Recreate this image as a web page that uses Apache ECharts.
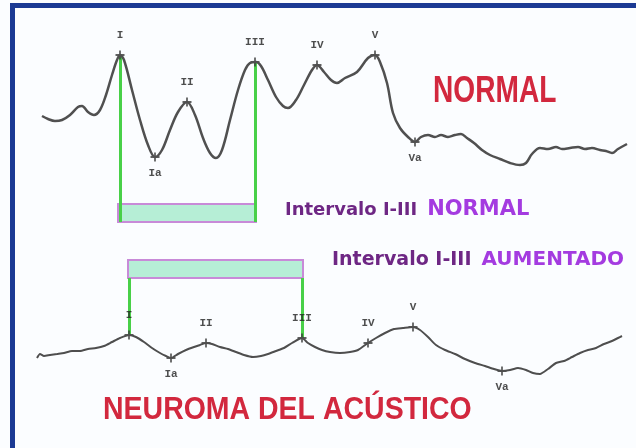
<!DOCTYPE html>
<html>
<head>
<meta charset="utf-8">
<script src="https://cdn.jsdelivr.net/npm/echarts@6/dist/echarts.min.js"></script>
<style>
  html, body { margin: 0; padding: 0; background: #ffffff; }
  #main { width: 636px; height: 448px; }
</style>
</head>
<body>
<div id="main"></div>
<script>
// ABR traces: [latency, amplitude] in plot units
var normalTrace = [
  [42,116],[48,119],[55,121],[62,120],[70,115],[78,107],[82,106],[88,112],[94,115],[100,110],
  [106,95],[112,75],[117,60],[120,55],[124,60],[132,90],[140,120],[148,145],[155,157],[162,150],
  [170,130],[178,112],[187,102],[195,115],[203,138],[210,153],[216,158],[222,150],[230,120],[238,90],
  [245,70],[250,63],[256,62],[261,66],[268,80],[276,97],[283,106],[288,108],[296,100],[304,85],
  [312,70],[317,65],[324,72],[331,80],[337,83],[345,78],[357,72],[368,58],[375,55],[380,62],
  [387,83],[393,113],[400,128],[408,137],[415,142],[421,137],[428,135],[435,137],[441,135],[448,137],
  [455,135],[461,134],[467,138],[474,143],[482,150],[490,155],[500,159],[510,163],[520,165],[526,163],
  [532,154],[540,148],[548,149],[556,147],[562,149],[570,148],[578,147],[585,149],[592,148],[600,150],
  [606,151],[612,153],[618,149],[627,144]
];
var neuromaTrace = [
  [37,358],[40,354],[44,356],[50,355],[57,354],[64,353],[72,351],[80,351],[88,349],[96,348],
  [104,346],[112,342],[120,338],[129,335],[136,337],[144,342],[152,348],[160,353],[166,356],[171,358],
  [178,354],[186,350],[194,347],[200,345],[206,343],[212,344],[220,347],[228,349],[236,352],[244,355],
  [253,357],[261,356],[268,354],[276,351],[284,348],[292,343],[302,338],[308,343],[315,347],[322,350],
  [330,352],[340,353],[350,352],[358,350],[368,343],[376,338],[385,333],[394,329],[403,328],[413,327],
  [420,330],[428,337],[436,345],[445,350],[455,354],[465,359],[475,363],[485,366],[494,369],[502,371],
  [510,370],[518,368],[526,370],[533,373],[540,374],[548,369],[556,363],[564,361],[572,357],[580,353],
  [588,350],[596,348],[604,344],[612,341],[618,338],[622,336]
];

var waveNames = ['I', 'Ia', 'II', 'III', 'IV', 'V', 'Va'];
var normalPeakX = [120, 155, 187, 255, 317, 375, 415];
var normalPeakY = [55, 157, 102, 62, 65, 55, 142];
var neuromaPeakX = [129, 171, 206, 302, 368, 413, 502];
var neuromaPeakY = [335, 358, 343, 338, 343, 327, 371];

// interval I-III bars: [left, right], [top, bottom]
var normalInterval = [118, 256];
var normalBar = [204, 222];
var neuromaInterval = [128, 303];
var neuromaBar = [260, 278];

var crossPath = 'path://M4,0H6V4H10V6H6V10H4V6H0V4H4Z';

function peakItems(xs, ys) {
  return waveNames.map(function (n, i) {
    var trough = n.charAt(n.length - 1) === 'a';
    return {
      name: n,
      value: [xs[i], ys[i]],
      label: trough ? { position: 'bottom', distance: 6 } : { position: 'top', distance: 10 }
    };
  });
}

// green markers from wave I and III to the interval bar
function greenLines(xs, ys, bar) {
  return [
    { coords: [[xs[0], ys[0]], [xs[0], bar[1]]] },
    { coords: [[xs[3], ys[3]], [xs[3], bar[1]]] }
  ];
}

var barStyle = { color: '#b6eed6', borderColor: '#c88ad8', borderWidth: 2 };

var myChart = echarts.init(document.getElementById('main'));
var option = {
  backgroundColor: '#fbfdff',
  animation: false,
  grid: { left: 0, right: 0, top: 0, bottom: 0 },
  xAxis: { type: 'value', min: 0, max: 636, show: false },
  yAxis: { type: 'value', min: 0, max: 448, inverse: true, show: false },
  graphic: [
    { type: 'rect', shape: { x: 10, y: 3, width: 626, height: 5 }, style: { fill: '#1b3a94' } },
    { type: 'rect', shape: { x: 10, y: 3, width: 5, height: 445 }, style: { fill: '#1b3a94' } },
    {
      type: 'text', x: 433, y: 92, scaleX: 0.76,
      style: { text: 'NORMAL', fill: '#d2283e', font: 'bold 37px "Liberation Sans", Arial', textVerticalAlign: 'middle' }
    },
    {
      type: 'text', x: 103, y: 410, scaleX: 0.89,
      style: { text: 'NEUROMA DEL ACÚSTICO', fill: '#d2283e', font: 'bold 32px "Liberation Sans", Arial', textVerticalAlign: 'middle' }
    },
    {
      type: 'text', x: 285, y: 210,
      style: {
        text: '{a|Intervalo I-III}{b|NORMAL}',
        textVerticalAlign: 'middle',
        rich: {
          a: { fill: '#6e2784', font: 'bold 18px "DejaVu Sans"' },
          b: { fill: '#a43be0', font: 'bold 21px "DejaVu Sans"', padding: [0, 0, 0, 10] }
        }
      }
    },
    {
      type: 'text', x: 332, y: 260,
      style: {
        text: '{a|Intervalo I-III}{b|AUMENTADO}',
        textVerticalAlign: 'middle',
        rich: {
          a: { fill: '#6e2784', font: 'bold 19px "DejaVu Sans"' },
          b: { fill: '#a43be0', font: 'bold 20px "DejaVu Sans"', padding: [0, 0, 0, 10] }
        }
      }
    }
  ],
  series: [
    {
      type: 'line', name: 'bars', data: [],
      markArea: {
        silent: true,
        itemStyle: barStyle,
        data: [
          [{ coord: [normalInterval[0], normalBar[0]] }, { coord: [normalInterval[1], normalBar[1]] }],
          [{ coord: [neuromaInterval[0], neuromaBar[0]] }, { coord: [neuromaInterval[1], neuromaBar[1]] }]
        ]
      }
    },
    {
      type: 'lines', coordinateSystem: 'cartesian2d', silent: true,
      lineStyle: { color: '#48d048', width: 3, opacity: 1 },
      data: greenLines(normalPeakX, normalPeakY, normalBar)
        .concat(greenLines(neuromaPeakX, neuromaPeakY, neuromaBar))
    },
    {
      type: 'line', name: 'Normal', data: normalTrace, smooth: 0.35, showSymbol: false,
      lineStyle: { color: '#505050', width: 2.5 }
    },
    {
      type: 'line', name: 'Neuroma', data: neuromaTrace, smooth: 0.2, showSymbol: false,
      lineStyle: { color: '#4e4e4e', width: 2 }
    },
    {
      type: 'scatter', data: peakItems(normalPeakX, normalPeakY).concat(peakItems(neuromaPeakX, neuromaPeakY)),
      symbol: crossPath, symbolSize: 9,
      itemStyle: { color: '#3a3a3a' },
      label: {
        show: true, formatter: '{b}', color: '#222',
        fontFamily: '"Liberation Mono", "DejaVu Sans Mono", monospace', fontWeight: 'bold', fontSize: 11
      }
    }
  ]
};
myChart.setOption(option);
</script>
</body>
</html>
